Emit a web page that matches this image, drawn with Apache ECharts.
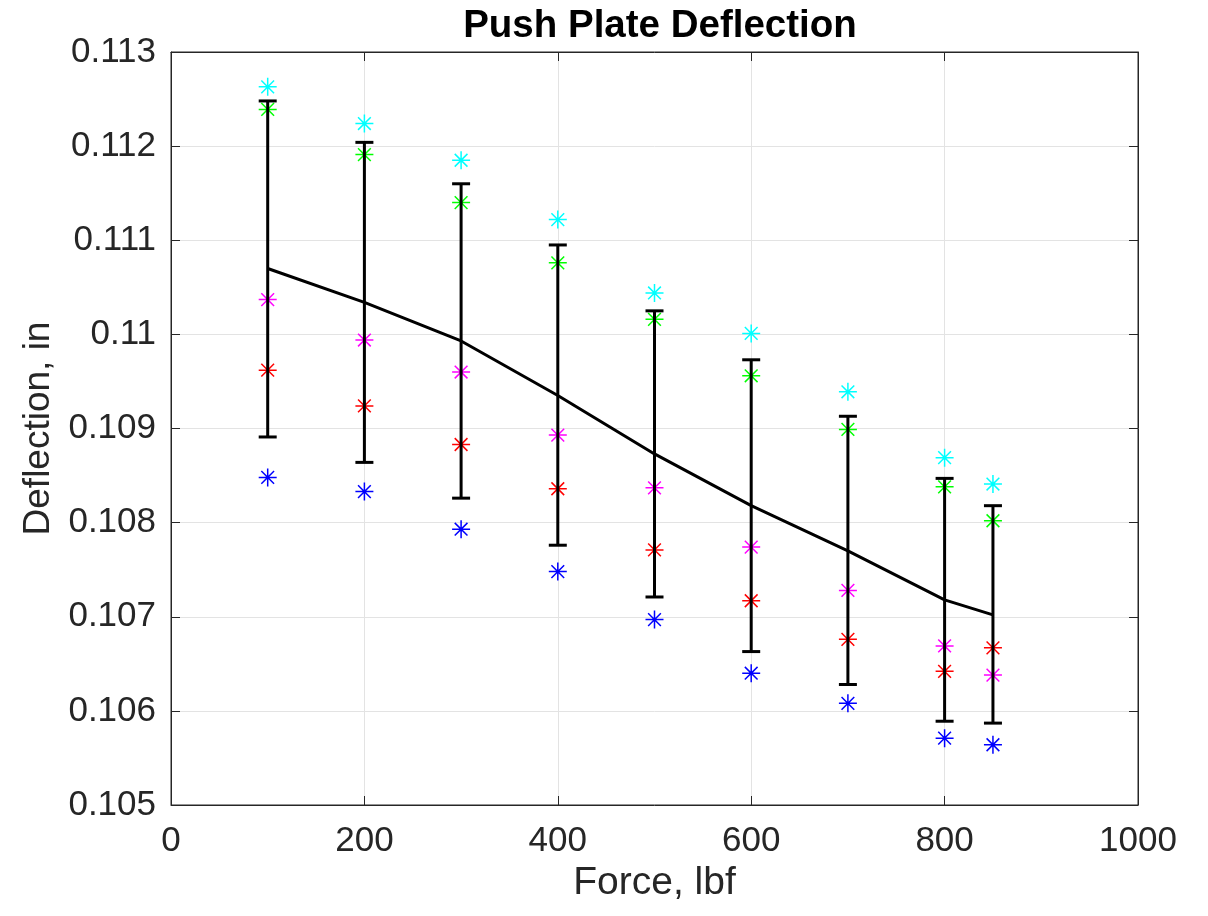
<!DOCTYPE html>
<html>
<head>
<meta charset="utf-8">
<script src="https://cdn.jsdelivr.net/npm/echarts@6/dist/echarts.min.js"></script>
<style>
  html, body { margin: 0; padding: 0; background: #fff; }
  #chart { width: 1208px; height: 916px; }
</style>
</head>
<body>
<div id="chart"></div>
<script>
// force values (lbf)
var force = [100, 200, 300, 400, 500, 600, 700, 800, 850];

// five runs of deflection (in)
var runCyan    = [0.11263, 0.11224, 0.11185, 0.11122, 0.11044, 0.11001, 0.10939, 0.10869, 0.10841];
var runGreen   = [0.11239, 0.11191, 0.11140, 0.11076, 0.11016, 0.10956, 0.10899, 0.10838, 0.10802];
var runMagenta = [0.11037, 0.10994, 0.10960, 0.10893, 0.10837, 0.10774, 0.10728, 0.10669, 0.10638];
var runRed     = [0.10962, 0.10924, 0.10883, 0.10836, 0.10771, 0.10717, 0.10676, 0.10642, 0.10667];
var runBlue    = [0.10848, 0.10833, 0.10793, 0.10748, 0.10697, 0.10640, 0.10608, 0.10571, 0.10564];

// mean line and error bar ends
var meanDefl = [0.11070, 0.11034, 0.10993, 0.10935, 0.10873, 0.10818, 0.10770, 0.10718, 0.10702];
var errLow   = [0.10891, 0.10864, 0.10826, 0.10776, 0.10721, 0.10663, 0.10628, 0.10589, 0.10587];
var errHigh  = [0.11248, 0.11204, 0.11160, 0.11095, 0.11025, 0.10973, 0.10913, 0.10847, 0.10818];

// axis ticks
var xTicks = { min: 0, max: 1000, step: 200 };
var yTicks = { min: 0.105, max: 0.113, step: 0.001 };

var fontFam = '"Liberation Sans", Arial, Helvetica, sans-serif';
var axisCol = '#262626';
var starPath = 'path://M0,-10L0,10M-10,0L10,0M-7.07,-7.07L7.07,7.07M-7.07,7.07L7.07,-7.07';

function pairs(ys) {
    var out = [];
    for (var i = 0; i < force.length; i++) out.push([force[i], ys[i]]);
    return out;
}

function starSeries(name, ys, col) {
    return {
        name: name,
        type: 'scatter',
        data: pairs(ys),
        symbol: starPath,
        symbolSize: 18,
        itemStyle: { color: 'rgba(0,0,0,0)', borderColor: col, borderWidth: 1.5, opacity: 1 },
        emphasis: { disabled: true },
        z: 2
    };
}

var errData = [];
for (var i = 0; i < force.length; i++) {
    errData.push([force[i], errLow[i], errHigh[i]]);
}

function renderErr(params, api) {
    var x = api.value(0);
    var lo = api.coord([x, api.value(1)]);
    var hi = api.coord([x, api.value(2)]);
    var half = 9;
    var st = { stroke: '#000', lineWidth: 3 };
    return {
        type: 'group',
        children: [
            { type: 'line', shape: { x1: hi[0], y1: hi[1], x2: lo[0], y2: lo[1] }, style: st },
            { type: 'line', shape: { x1: hi[0] - half, y1: hi[1], x2: hi[0] + half, y2: hi[1] }, style: st },
            { type: 'line', shape: { x1: lo[0] - half, y1: lo[1], x2: lo[0] + half, y2: lo[1] }, style: st }
        ]
    };
}

var chart = echarts.init(document.getElementById('chart'));

var yFmt = function (v) { return String(parseFloat(v.toFixed(3))); };
var xFmt = function (v) { return String(v); };

option = {
    backgroundColor: '#fff',
    animation: false,
    title: {
        text: 'Push Plate Deflection',
        left: 655,
        textAlign: 'center',
        top: 2,
        textStyle: { fontFamily: fontFam, fontSize: 38.5, fontWeight: 'bold', color: '#000' }
    },
    grid: {
        left: 171, right: 70, top: 52, bottom: 111,
        show: true, borderColor: axisCol, borderWidth: 1, backgroundColor: '#fff'
    },
    xAxis: [
        {
            type: 'value',
            min: xTicks.min, max: xTicks.max, interval: xTicks.step,
            name: 'Force, lbf',
            nameLocation: 'middle',
            nameGap: 43,
            nameTextStyle: { fontFamily: fontFam, fontSize: 39, color: axisCol },
            axisLine: { show: true, onZero: false, lineStyle: { color: axisCol, width: 1 } },
            axisTick: { show: true, inside: true, length: 9, lineStyle: { color: axisCol } },
            axisLabel: { fontFamily: fontFam, fontSize: 35, color: axisCol, margin: 19, formatter: xFmt },
            splitLine: { show: true, lineStyle: { color: '#e3e3e3', width: 1 } }
        },
        {
            type: 'value', position: 'top',
            min: xTicks.min, max: xTicks.max, interval: xTicks.step,
            axisLine: { show: true, onZero: false, lineStyle: { color: axisCol } },
            axisTick: { show: true, inside: true, length: 9, lineStyle: { color: axisCol } },
            axisLabel: { show: false },
            splitLine: { show: false }
        }
    ],
    yAxis: [
        {
            type: 'value',
            min: yTicks.min, max: yTicks.max, interval: yTicks.step,
            name: 'Deflection, in',
            nameLocation: 'middle',
            nameGap: 114,
            nameTextStyle: { fontFamily: fontFam, fontSize: 37, color: axisCol },
            axisLine: { show: true, onZero: false, lineStyle: { color: axisCol, width: 1 } },
            axisTick: { show: true, inside: true, length: 9, lineStyle: { color: axisCol } },
            axisLabel: { fontFamily: fontFam, fontSize: 35, color: axisCol, margin: 15, formatter: yFmt },
            splitLine: { show: true, lineStyle: { color: '#e3e3e3', width: 1 } }
        },
        {
            type: 'value', position: 'right',
            min: yTicks.min, max: yTicks.max, interval: yTicks.step,
            axisLine: { show: true, onZero: false, lineStyle: { color: axisCol } },
            axisTick: { show: true, inside: true, length: 9, lineStyle: { color: axisCol } },
            axisLabel: { show: false },
            splitLine: { show: false }
        }
    ],
    series: [
        starSeries('run 1', runRed, '#ff0000'),
        starSeries('run 2', runBlue, '#0000ff'),
        starSeries('run 3', runGreen, '#00ff00'),
        starSeries('run 4', runMagenta, '#ff00ff'),
        starSeries('run 5', runCyan, '#00ffff'),
        {
            name: 'error',
            type: 'custom',
            data: errData,
            encode: { x: 0, y: [1, 2] },
            renderItem: renderErr,
            z: 3
        },
        {
            name: 'mean',
            type: 'line',
            data: pairs(meanDefl),
            showSymbol: false,
            symbol: 'none',
            lineStyle: { color: '#000', width: 3 },
            z: 4
        }
    ]
};

chart.setOption(option);
</script>
</body>
</html>
